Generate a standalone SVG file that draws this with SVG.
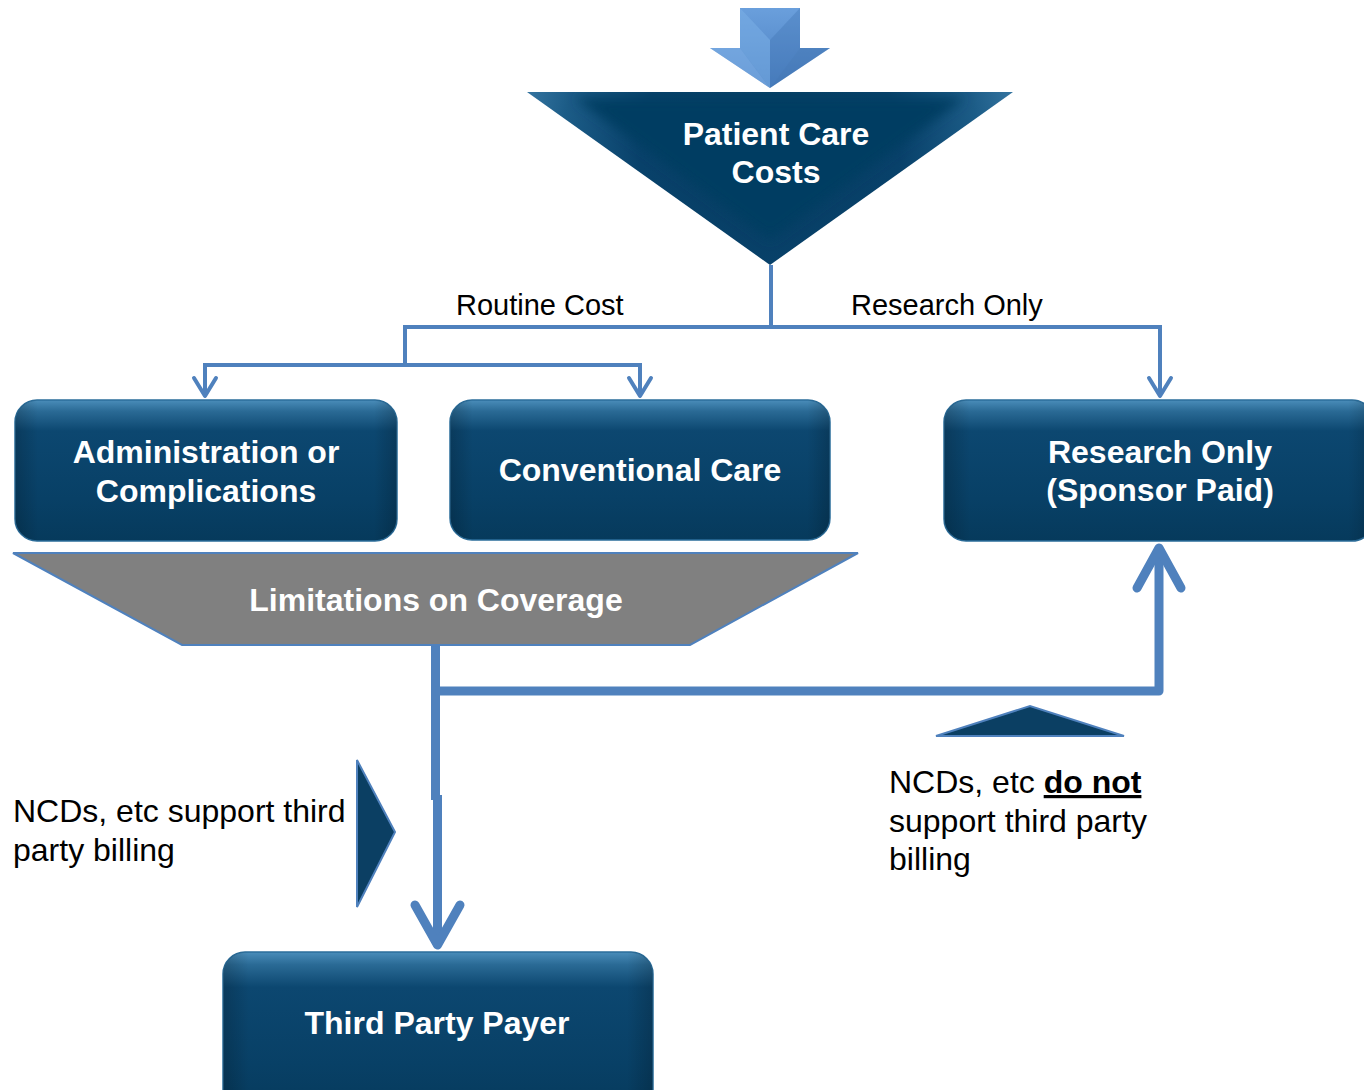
<svg xmlns="http://www.w3.org/2000/svg" width="1364" height="1090" viewBox="0 0 1364 1090">
  <defs>
    <linearGradient id="boxFill" x1="0" y1="0" x2="0" y2="1">
      <stop offset="0" stop-color="#4a8dba"/>
      <stop offset="0.08" stop-color="#2a6a95"/>
      <stop offset="0.22" stop-color="#0c4770"/>
      <stop offset="0.7" stop-color="#084066"/>
      <stop offset="1" stop-color="#063a5c"/>
    </linearGradient>
    <linearGradient id="boxSide" x1="0" y1="0" x2="1" y2="0">
      <stop offset="0" stop-color="#000" stop-opacity="0.18"/>
      <stop offset="0.06" stop-color="#000" stop-opacity="0"/>
      <stop offset="0.94" stop-color="#000" stop-opacity="0"/>
      <stop offset="1" stop-color="#000" stop-opacity="0.18"/>
    </linearGradient>
    <radialGradient id="triFill" cx="770" cy="150" r="260" gradientUnits="userSpaceOnUse">
      <stop offset="0" stop-color="#063d61"/>
      <stop offset="0.5" stop-color="#08416a"/>
      <stop offset="0.8" stop-color="#1c5c87"/>
      <stop offset="1" stop-color="#3a7aa6"/>
    </radialGradient>
    <filter id="soft" x="-10%" y="-10%" width="120%" height="120%">
      <feGaussianBlur stdDeviation="6"/>
    </filter>
    <clipPath id="triClip">
      <polygon points="527,92 1013,92 770,265"/>
    </clipPath>
    <linearGradient id="arrowFill" x1="0" y1="0" x2="0" y2="1">
      <stop offset="0" stop-color="#6a9fdc"/>
      <stop offset="1" stop-color="#4a7fc0"/>
    </linearGradient>
    <style>
      .node-text { font-family: "Liberation Sans", Arial, sans-serif; font-weight: bold; font-size: 32px; fill: #ffffff; text-anchor: middle; }
      .label { font-family: "Liberation Sans", Arial, sans-serif; font-size: 29px; fill: #000000; }
      .note { font-family: "Liberation Sans", Arial, sans-serif; font-size: 32px; fill: #000000; }
      .thin { fill: none; stroke: #4f81bd; stroke-width: 4; stroke-linejoin: miter; }
      .thin-head { fill: none; stroke: #4f81bd; stroke-width: 4; stroke-linecap: round; stroke-linejoin: round; }
      .thick { fill: none; stroke: #4f81bd; stroke-width: 9; stroke-linejoin: round; }
      .thick-head { fill: none; stroke: #4f81bd; stroke-width: 9; stroke-linecap: round; stroke-linejoin: round; }
      .box { fill: url(#boxFill); stroke: #2b6d9a; stroke-width: 1.5; }
      .box-shade { fill: url(#boxSide); }
      .pointer { fill: #0b3f63; stroke: #4f81bd; stroke-width: 2; }
    </style>
  </defs>

  <rect width="1364" height="1090" fill="#ffffff"/>

  <!-- entry arrow -->
  <g id="entry-arrow">
    <polygon points="740,8 800,8 800,48 830,48 770,88 710,48 740,48" fill="url(#arrowFill)"/>
    <polygon points="740,8 770,40 770,88 740,48" fill="#7aaee6" opacity="0.55"/>
    <polygon points="800,8 770,40 770,88 800,48" fill="#3f73b3" opacity="0.35"/>
    <polygon points="710,48 740,48 770,88" fill="#8cbcf0" opacity="0.5"/>
    <polygon points="830,48 800,48 770,88" fill="#3b6eab" opacity="0.4"/>
  </g>

  <!-- Patient Care Costs -->
  <g id="patient-care-costs">
    <polygon points="527,92 1013,92 770,265" fill="url(#triFill)"/>
    <g clip-path="url(#triClip)">
      <polygon points="575,98 965,98 770,240" fill="#063d62" filter="url(#soft)"/>
    </g>
    <text class="node-text" x="776" y="145">Patient Care</text>
    <text class="node-text" x="776" y="183">Costs</text>
  </g>

  <!-- connectors -->
  <g id="connectors">
    <polyline class="thin" points="771,265 771,327 405,327 405,365 205,365 205,396"/>
    <polyline class="thin" points="405,365 640,365 640,396"/>
    <polyline class="thin" points="771,327 1160,327 1160,396"/>
    <polyline class="thin-head" points="194,378 205,396 216,378"/>
    <polyline class="thin-head" points="629,378 640,396 651,378"/>
    <polyline class="thin-head" points="1149,378 1160,396 1171,378"/>

    <line class="thick" x1="435.5" y1="645" x2="435.5" y2="800"/>
    <line class="thick" x1="437.5" y1="795" x2="437.5" y2="944"/>
    <polyline class="thick-head" points="415,905 437.5,945 460,905"/>
    <polyline class="thick" points="435.5,691 1159,691 1159,550"/>
    <polyline class="thick-head" points="1137,588 1159,548 1181,588"/>
  </g>

  <!-- Administration or Complications -->
  <g id="admin-complications">
    <rect class="box" x="15" y="400" width="382" height="141" rx="22"/>
    <rect class="box-shade" x="15" y="400" width="382" height="141" rx="22"/>
    <text class="node-text" x="206" y="463">Administration or</text>
    <text class="node-text" x="206" y="502">Complications</text>
  </g>

  <!-- Conventional Care -->
  <g id="conventional-care">
    <rect class="box" x="450" y="400" width="380" height="140" rx="22"/>
    <rect class="box-shade" x="450" y="400" width="380" height="140" rx="22"/>
    <text class="node-text" x="640" y="481">Conventional Care</text>
  </g>

  <!-- Research Only (Sponsor Paid) -->
  <g id="research-only">
    <rect class="box" x="944" y="400" width="430" height="141" rx="22"/>
    <rect class="box-shade" x="944" y="400" width="430" height="141" rx="22"/>
    <text class="node-text" x="1160" y="463">Research Only</text>
    <text class="node-text" x="1160" y="501">(Sponsor Paid)</text>
  </g>

  <!-- Limitations on Coverage -->
  <g id="limitations">
    <polygon points="13,553 858,553 690,645 182,645" fill="#808080" stroke="#4f81bd" stroke-width="2"/>
    <text class="node-text" x="436" y="611">Limitations on Coverage</text>
  </g>

  <!-- Third Party Payer -->
  <g id="third-party-payer">
    <rect class="box" x="223" y="952" width="430" height="160" rx="22"/>
    <rect class="box-shade" x="223" y="952" width="430" height="160" rx="22"/>
    <text class="node-text" x="437" y="1034">Third Party Payer</text>
  </g>

  <!-- edge labels -->
  <g id="labels">
    <text class="label" x="456" y="315">Routine Cost</text>
    <text class="label" x="851" y="315">Research Only</text>
  </g>

  <!-- side notes with pointers -->
  <g id="note-supported">
    <polygon class="pointer" points="357,760 395,832 357,907"/>
    <text class="note" x="13" y="822">NCDs, etc support third</text>
    <text class="note" x="13" y="861">party billing</text>
  </g>

  <g id="note-not-supported">
    <polygon class="pointer" points="936,736 1030,706 1124,736"/>
    <text class="note" x="889" y="793">NCDs, etc <tspan font-weight="bold" text-decoration="underline">do not</tspan></text>
    <text class="note" x="889" y="832">support third party</text>
    <text class="note" x="889" y="870">billing</text>
  </g>
</svg>
